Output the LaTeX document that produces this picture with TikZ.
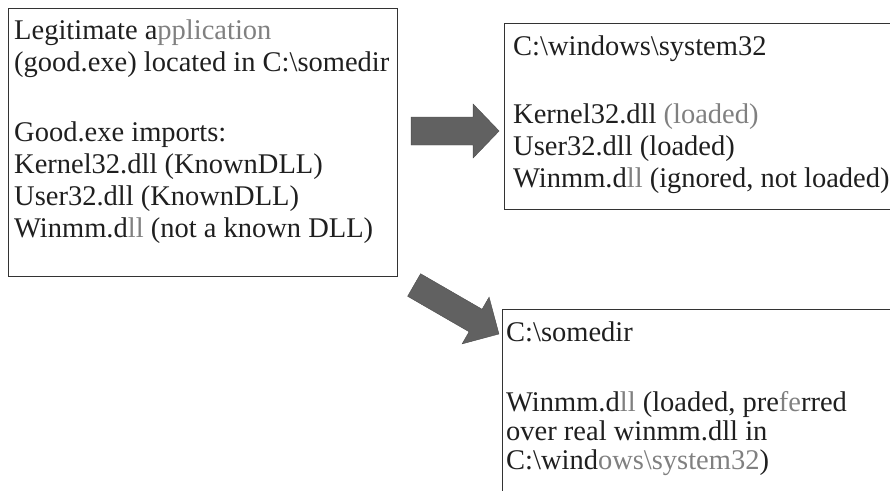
\documentclass[tikz,border=0pt]{standalone}
\usepackage{fontspec}
\setmainfont{Liberation Serif}
\begin{document}
\begin{tikzpicture}[x=1pt,y=-1pt,
  panel/.style={draw=black!80, line width=1.1pt, inner sep=0pt, anchor=north west},
  body/.style={inner sep=0pt, anchor=north west, align=left, text=black!88,
    font=\fontsize{28.5}{32}\selectfont},
  blockarrow/.style={fill=black!62, draw=black!70, line width=0.4pt}]
\useasboundingbox (0,0) rectangle (890,490);
\clip (0,0) rectangle (890,490);
\colorlet{faded}{black!50}

% the three boxes
\node[panel, minimum width=389pt, minimum height=268pt] (src) at (8,8) {};
\node[panel, minimum width=420pt, minimum height=186pt] (sys) at (504,23) {};
\node[panel, minimum width=420pt, minimum height=220pt] (dir) at (502,309) {};

% their texts
\node[body] (srctext) at ([shift={(6,12)}]src.north west)
  {Legitimate a\textcolor{faded}{pplication}\\
   (good.exe) located in C:\textbackslash somedir\\[38pt]
   Good.exe imports:\\
   Kernel32.dll (KnownDLL)\\
   User32.dll (KnownDLL)\\
   Winmm.d\textcolor{faded}{ll} (not a known DLL)};
\node[body] (systext) at ([shift={(9,13)}]sys.north west)
  {C:\textbackslash windows\textbackslash system32\\[36pt]
   Kernel32.dll \textcolor{faded}{(loaded)}\\
   User32.dll (loaded)\\
   Winmm.d\textcolor{faded}{ll} (ignored, not loaded)};
\node[body, font=\fontsize{28.5}{29}\selectfont] (dirtext)
  at ([shift={(4,13)}]dir.north west)
  {C:\textbackslash somedir\\[41pt]
   Winmm.d\textcolor{faded}{ll} (loaded, pre\textcolor{faded}{fe}rred\\
   over real winmm.dll in\\
   C:\textbackslash wind\textcolor{faded}{ows\textbackslash system32})};

% block arrows from the application box to the two search locations
\coordinate (a1) at ([shift={(13,123)}]src.north east);
\coordinate (a2) at ([shift={(16,277)}]src.north east);
\fill[blockarrow, shift={(a1)}]
  (0,-14) -- (62,-14) -- (62,-27) -- (88,0) -- (62,27) -- (62,14) -- (0,14) -- cycle;
\fill[blockarrow, shift={(a2)}, rotate=-30]
  (0,-13) -- (71,-13) -- (71,-27) -- (98,0) -- (71,27) -- (71,13) -- (0,13) -- cycle;
\end{tikzpicture}
\end{document}
